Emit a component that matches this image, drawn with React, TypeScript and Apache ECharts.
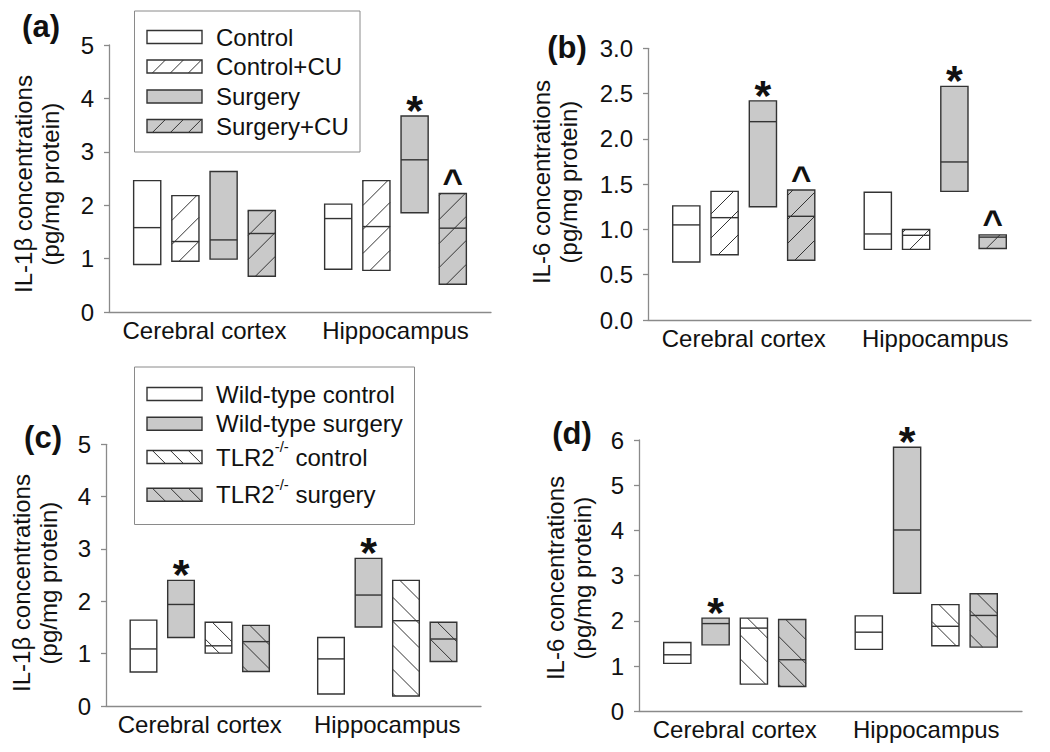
import React, { useEffect, useRef } from 'react';
import * as echarts from 'echarts';

const FONT = '"Liberation Sans", Arial, Helvetica, sans-serif';

const categories = ['Cerebral cortex', 'Hippocampus'];
const groupsAB = ['Control', 'Control+CU', 'Surgery', 'Surgery+CU'];
const groupsCD = ['Wild-type control', 'Wild-type surgery', 'TLR2-/- control', 'TLR2-/- surgery'];

// each entry: [min, median, max] for [Cerebral cortex, Hippocampus]
// (a) IL-1β
const aControl = [[0.89, 1.58, 2.46], [0.80, 1.75, 2.02]];
const aControlCU = [[0.95, 1.32, 2.18], [0.78, 1.60, 2.46]];
const aSurgery = [[0.99, 1.35, 2.63], [1.86, 2.85, 3.67]];
const aSurgeryCU = [[0.67, 1.47, 1.90], [0.52, 1.57, 2.22]];
// (b) IL-6
const bControl = [[0.64, 1.05, 1.26], [0.78, 0.95, 1.41]];
const bControlCU = [[0.72, 1.13, 1.42], [0.78, 0.935, 1.00]];
const bSurgery = [[1.25, 2.19, 2.42], [1.42, 1.745, 2.58]];
const bSurgeryCU = [[0.66, 1.145, 1.435], [0.79, 0.915, 0.94]];
// (c) IL-1β
const cWtControl = [[0.65, 1.09, 1.64], [0.23, 0.90, 1.31]];
const cWtSurgery = [[1.31, 1.94, 2.40], [1.51, 2.12, 2.82]];
const cKoControl = [[1.01, 1.15, 1.60], [0.19, 1.63, 2.40]];
const cKoSurgery = [[0.66, 1.23, 1.54], [0.85, 1.28, 1.60]];
// (d) IL-6
const dWtControl = [[1.06, 1.25, 1.52], [1.37, 1.75, 2.11]];
const dWtSurgery = [[1.47, 1.94, 2.06], [2.61, 4.01, 5.84]];
const dKoControl = [[0.60, 1.84, 2.06], [1.45, 1.88, 2.36]];
const dKoSurgery = [[0.55, 1.14, 2.03], [1.42, 2.12, 2.60]];

// significance marks per group, per category
const notesA = [['', ''], ['', ''], ['', '*'], ['', '^']];
const notesB = [['', ''], ['', ''], ['*', '*'], ['^', '^']];
const notesC = [['', ''], ['*', '*'], ['', ''], ['', '']];
const notesD = [['', ''], ['*', '*'], ['', ''], ['', '']];

const yTicksA = { min: 0, max: 5, interval: 1 };
const yTicksB = { min: 0, max: 3, interval: 0.5 };
const yTicksC = { min: 0, max: 5, interval: 1 };
const yTicksD = { min: 0, max: 6, interval: 1 };

const WHITE = '#ffffff';
const GRAY = '#c9c9c9';
const EDGE = '#333333';
const AXIS = '#8a8a8a';
const TEXT = '#111111';

const stylesAB = [
  { fill: WHITE, hatch: '' },
  { fill: WHITE, hatch: '/' },
  { fill: GRAY, hatch: '' },
  { fill: GRAY, hatch: '/' },
];
const stylesCD = [
  { fill: WHITE, hatch: '' },
  { fill: GRAY, hatch: '' },
  { fill: WHITE, hatch: '\\' },
  { fill: GRAY, hatch: '\\' },
];

function hatchSegments(x0: number, y0: number, x1: number, y1: number, dir: string, P: number) {
  const segs: number[][] = [];
  if (!dir) return segs;
  if (dir === '/') {
    const anchor = x0 + y1 + P * 0.3;
    const cMin = x0 + y0, cMax = x1 + y1;
    const k = Math.ceil((cMin - anchor) / P);
    for (let c = anchor + k * P; c < cMax; c += P) {
      const xa = Math.max(x0, c - y1);
      const xb = Math.min(x1, c - y0);
      if (xb - xa > 0.5) segs.push([xa, c - xa, xb, c - xb]);
    }
  } else {
    const anchor = x0 - y0 + P * 0.3;
    const cMin = x0 - y1, cMax = x1 - y0;
    const k = Math.ceil((cMin - anchor) / P);
    for (let c = anchor + k * P; c < cMax; c += P) {
      const xa = Math.max(x0, c + y0);
      const xb = Math.min(x1, c + y1);
      if (xb - xa > 0.5) segs.push([xa, xa - c, xb, xb - c]);
    }
  }
  return segs;
}

function lineEls(segs: number[][], width = 1) {
  return segs.map((s) => ({
    type: 'line',
    shape: { x1: s[0], y1: s[1], x2: s[2], y2: s[3] },
    style: { stroke: EDGE, lineWidth: width },
    silent: true,
  }));
}

function makeRender(gi: number, fill: string, hatch: string, notes: string[]) {
  return (params: any, api: any) => {
    const ci = api.value(0);
    const p0 = api.coord([0, 0]);
    const p1 = api.coord([1, 0]);
    const band = Math.abs(p1[0] - p0[0]);
    const base = api.coord([ci, 0]);
    const cx = base[0] + (gi - 1.5) * band * 0.2;
    const w = band * 0.142;
    const yTop = api.coord([ci, api.value(3)])[1];
    const yBot = api.coord([ci, api.value(1)])[1];
    const yMed = api.coord([ci, api.value(2)])[1];
    const x0 = cx - w / 2;
    const x1 = cx + w / 2;
    const children: any[] = [
      { type: 'rect', shape: { x: x0, y: yTop, width: w, height: yBot - yTop }, style: { fill, stroke: 'none' } },
      ...lineEls(hatchSegments(x0, yTop, x1, yBot, hatch, 24), 1),
      { type: 'line', shape: { x1: x0, y1: yMed, x2: x1, y2: yMed }, style: { stroke: EDGE, lineWidth: 1.4 } },
      { type: 'rect', shape: { x: x0, y: yTop, width: w, height: yBot - yTop }, style: { fill: 'none', stroke: EDGE, lineWidth: 1.4 } },
    ];
    const note = notes[ci];
    if (note === '*') {
      children.push({
        type: 'text', x: cx, y: yTop - 6,
        style: { text: '*', fill: TEXT, fontSize: 43, fontWeight: 'bold', fontFamily: FONT, align: 'center', verticalAlign: 'middle' },
      });
    } else if (note === '^') {
      children.push({
        type: 'text', x: cx, y: yTop - 12,
        style: { text: '^', fill: TEXT, fontSize: 35, fontWeight: 'bold', fontFamily: FONT, align: 'center', verticalAlign: 'middle' },
      });
    }
    return { type: 'group', children };
  };
}

const panels = [
  { label: '(a)', labelPos: [41, 26], grid: { left: 109, top: 45, width: 382, height: 267 }, ticks: yTicksA, decimals: 0,
    yName: 'IL-1β concentrations\n(pg/mg protein)', namePos: [37, 184],
    groups: groupsAB, styles: stylesAB, values: [aControl, aControlCU, aSurgery, aSurgeryCU], notes: notesA },
  { label: '(b)', labelPos: [567, 47], grid: { left: 648, top: 48.3, width: 383, height: 271.7 }, ticks: yTicksB, decimals: 1,
    yName: 'IL-6 concentrations\n(pg/mg protein)', namePos: [555, 182],
    groups: groupsAB, styles: stylesAB, values: [bControl, bControlCU, bSurgery, bSurgeryCU], notes: notesB },
  { label: '(c)', labelPos: [43, 437], grid: { left: 106, top: 444.3, width: 375, height: 261.7 }, ticks: yTicksC, decimals: 0,
    yName: 'IL-1β concentrations\n(pg/mg protein)', namePos: [35, 583],
    groups: groupsCD, styles: stylesCD, values: [cWtControl, cWtSurgery, cKoControl, cKoSurgery], notes: notesC },
  { label: '(d)', labelPos: [572, 433], grid: { left: 639, top: 440, width: 383, height: 271.3 }, ticks: yTicksD, decimals: 0,
    yName: 'IL-6 concentrations\n(pg/mg protein)', namePos: [569, 578],
    groups: groupsCD, styles: stylesCD, values: [dWtControl, dWtSurgery, dKoControl, dKoSurgery], notes: notesD },
];

function legendGraphic(box: number[], rows: number[], names: string[], styles: any[]) {
  const els: any[] = [
    { type: 'rect', shape: { x: box[0], y: box[1], width: box[2], height: box[3] }, style: { fill: '#fff', stroke: AXIS, lineWidth: 1 }, z: 10 },
  ];
  names.forEach((name, i) => {
    const cy = rows[i];
    const sx0 = 147, sx1 = 202, sy0 = cy - 6.5, sy1 = cy + 6.5;
    els.push({ type: 'rect', shape: { x: sx0, y: sy0, width: sx1 - sx0, height: sy1 - sy0 }, style: { fill: styles[i].fill, stroke: 'none' }, z: 11 });
    lineEls(hatchSegments(sx0, sy0, sx1, sy1, styles[i].hatch, 18), 1).forEach((l: any) => els.push({ ...l, z: 11 }));
    els.push({ type: 'rect', shape: { x: sx0, y: sy0, width: sx1 - sx0, height: sy1 - sy0 }, style: { fill: 'none', stroke: EDGE, lineWidth: 1.4 }, z: 12 });
    const m = name.match(/^(TLR2)(-\/-)(.*)$/);
    if (m) {
      els.push({
        type: 'text', x: 216, y: cy, z: 12,
        style: {
          text: m[1] + '{s|' + m[2] + '}' + m[3], fill: TEXT, fontSize: 24, fontFamily: FONT, lineHeight: 36,
          align: 'left', verticalAlign: 'middle',
          rich: { s: { fontSize: 15, fontFamily: FONT, fill: TEXT, lineHeight: 15, verticalAlign: 'top' } },
        },
      });
    } else {
      els.push({ type: 'text', x: 216, y: cy, z: 12, style: { text: name, fill: TEXT, fontSize: 24, fontFamily: FONT, align: 'left', verticalAlign: 'middle' } });
    }
  });
  return els;
}

export default function App() {
  const ref = useRef<HTMLDivElement>(null);
  useEffect(() => {
    if (!ref.current) return;
    const chart = echarts.init(ref.current, undefined, { renderer: 'svg' });
    const series: any[] = [];
    panels.forEach((p, pi) => {
      p.groups.forEach((g, gi) => {
        series.push({
          type: 'custom',
          name: g,
          xAxisIndex: pi,
          yAxisIndex: pi,
          clip: false,
          encode: { x: 0, y: [1, 2, 3] },
          data: p.values[gi].map((v, ci) => [ci, v[0], v[1], v[2]]),
          renderItem: makeRender(gi, p.styles[gi].fill, p.styles[gi].hatch, p.notes[gi]),
        });
      });
    });
    const graphic: any[] = [];
    panels.forEach((p) => {
      graphic.push({
        type: 'text', x: p.labelPos[0], y: p.labelPos[1],
        style: { text: p.label, fill: TEXT, fontSize: 31, fontWeight: 'bold', fontFamily: FONT, align: 'center', verticalAlign: 'middle' },
      });
      graphic.push({
        type: 'text', x: p.namePos[0], y: p.namePos[1], rotation: Math.PI / 2,
        style: { text: p.yName, fill: TEXT, fontSize: 24, fontFamily: FONT, lineHeight: 27, align: 'center', verticalAlign: 'middle' },
      });
    });
    graphic.push(...legendGraphic([134.5, 11, 225.5, 141], [37, 66.5, 96.5, 126], groupsAB, stylesAB));
    graphic.push(...legendGraphic([134.5, 367, 280, 157.5], [394, 423.7, 457, 494.7], groupsCD, stylesCD));

    chart.setOption({
      animation: false,
      backgroundColor: '#ffffff',
      grid: panels.map((p) => ({ ...p.grid })),
      xAxis: panels.map((p, pi) => ({
        type: 'category',
        gridIndex: pi,
        data: categories,
        boundaryGap: true,
        axisLine: { show: true, lineStyle: { color: AXIS, width: 1.3 } },
        axisTick: { show: false },
        axisLabel: { color: TEXT, fontSize: 24, fontFamily: FONT, margin: 6, interval: 0 },
        splitLine: { show: false },
      })),
      yAxis: panels.map((p, pi) => ({
        type: 'value',
        gridIndex: pi,
        min: p.ticks.min,
        max: p.ticks.max,
        interval: p.ticks.interval,
        axisLine: { show: true, lineStyle: { color: AXIS, width: 1.3 } },
        axisTick: { show: true, inside: false, length: 5, lineStyle: { color: AXIS, width: 1.3 } },
        axisLabel: {
          color: TEXT, fontSize: 24, fontFamily: FONT, margin: 15,
          formatter: (v: number) => v.toFixed(p.decimals),
        },
        splitLine: { show: false },
      })),
      series,
      graphic,
    });
    return () => chart.dispose();
  }, []);
  return <div ref={ref} style={{ position: 'absolute', left: 0, top: 0, width: 1050, height: 752 }} />;
}
